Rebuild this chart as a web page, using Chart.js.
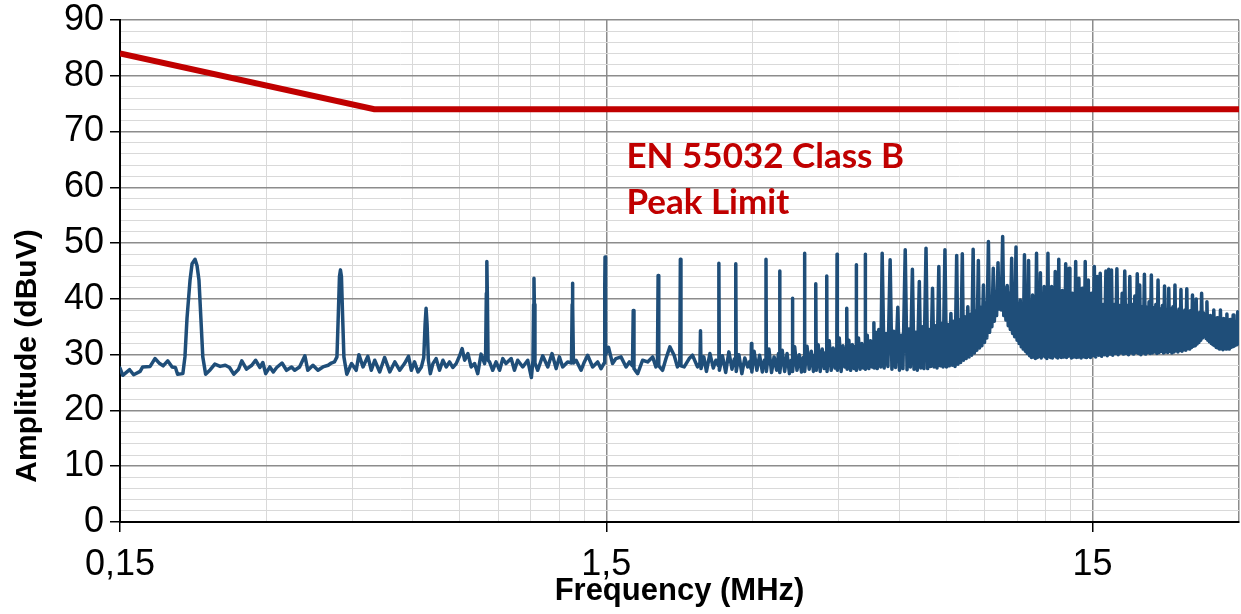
<!DOCTYPE html>
<html>
<head>
<meta charset="utf-8">
<script src="https://cdn.jsdelivr.net/npm/chart.js@4.4.1/dist/chart.umd.min.js"></script>
<style>
  html, body { margin: 0; padding: 0; background: #fff; overflow: hidden; }
  #wrap { width: 1241px; height: 614px; position: relative; }
  #wrap canvas { display: block; }
</style>
</head>
<body>
<div id="wrap"><canvas id="emiChart"></canvas></div>
<script>
// EN 55032 class B peak limit
const limitMHz = [0.15, 0.5, 30];
const limitDb = [84, 74, 74];

// log axis grid positions (multiples of 0.15 MHz), labels only on the decades
const freqTicks = [0.15, 0.3, 0.45, 0.6, 0.75, 0.9, 1.05, 1.2, 1.35,
  1.5, 3, 4.5, 6, 7.5, 9, 10.5, 12, 13.5, 15, 30];
const majorMHz = [0.15, 1.5, 15];
const majorText = ["0,15", "1,5", "15"];

const noteLines = ["EN 55032 Class B", "Peak Limit"];

// measured spectrum [MHz, dBuV]
const scanLow = [
  [0.150,27.6],[0.152,26.3],[0.157,27.3],[0.160,26.4],[0.165,27.0],[0.167,27.8],[0.173,27.9],[0.177,29.3],
  [0.181,28.4],[0.184,28.0],[0.188,28.9],[0.192,27.8],[0.195,27.7],[0.197,26.5],[0.202,26.6],[0.204,29.6],
  [0.206,36.5],[0.209,43.4],[0.211,46.3],[0.214,47.1],[0.216,46.0],[0.218,43.4],[0.220,36.5],[0.222,29.6],
  [0.225,26.5],[0.230,27.3],[0.235,28.3],[0.241,27.9],[0.247,28.1],[0.252,27.7],[0.257,26.5],[0.263,27.4],
  [0.267,28.9],[0.273,27.4],[0.280,28.1],[0.285,29.0],[0.291,27.7],[0.295,28.6],[0.299,26.6],[0.305,27.8],
  [0.310,26.9],[0.315,27.7],[0.323,28.5],[0.330,27.2],[0.338,27.8],[0.343,27.2],[0.351,27.8],[0.360,29.8],
  [0.365,27.2],[0.374,28.1],[0.383,27.2],[0.392,27.8],[0.402,28.1],[0.408,28.5],[0.414,28.7],[0.419,29.6],
  [0.422,38.0],[0.424,44.0],[0.426,45.2],[0.428,44.0],[0.430,38.0],[0.433,29.6],[0.439,26.5],[0.449,28.4],
  [0.459,27.2],[0.465,30.0],[0.474,27.8],[0.485,29.7],[0.493,27.2],[0.501,29.0],[0.513,26.9],[0.525,29.5],
  [0.538,26.9],[0.551,28.7],[0.564,27.2],[0.577,28.4],[0.588,29.7],[0.596,27.2],[0.605,28.7],[0.615,26.9],
  [0.625,27.8],[0.632,29.5],[0.636,35.5],[0.639,38.3],[0.642,35.5],[0.646,29.0],[0.652,26.6],[0.660,28.4],
  [0.670,29.3],[0.681,27.2],[0.692,29.0],[0.703,27.8],[0.714,28.7],[0.725,27.7],[0.737,28.4],[0.749,29.8],
  [0.758,31.1],[0.767,29.0],[0.779,30.2],[0.791,27.8],[0.804,28.4],[0.816,26.6],[0.829,30.1],[0.843,28.4],
  [0.847,30.0],[0.850,41.0],[0.852,46.7],[0.854,41.0],[0.857,29.0],[0.863,28.7],[0.876,27.2],[0.890,28.7],
  [0.905,27.2],[0.919,29.3],[0.933,28.4],[0.956,29.3],[0.971,27.2],[0.986,29.0],[1.010,27.8],[1.034,29.0],
  [1.052,25.9],[1.060,29.0],[1.063,39.0],[1.065,43.7],[1.067,39.0],[1.070,28.5],[1.084,27.2],[1.110,29.8],
  [1.137,27.8],[1.160,30.2],[1.183,27.5],[1.201,29.6],[1.220,27.8],[1.249,28.7],[1.272,28.5],[1.276,39.0],
  [1.278,42.8],[1.280,39.0],[1.284,28.5],[1.300,29.0],[1.331,27.2],[1.352,28.7],[1.373,29.9],[1.406,27.8],
  [1.440,28.7],[1.463,27.5],[1.485,28.5],[1.489,42.0],[1.491,47.5],[1.493,42.0],[1.497,30.0],[1.516,31.3],
  [1.545,28.4],[1.570,29.3],[1.608,29.6],[1.647,27.8],[1.673,28.7],[1.698,28.0],[1.704,37.9],[1.710,27.5],
  [1.740,26.6],[1.781,29.0],[1.824,28.7],[1.868,29.6],[1.897,27.8],[1.911,28.5],[1.917,44.2],[1.923,28.0],
  [1.958,27.2],[1.990,29.3],[2.027,31.4],[2.068,29.9],[2.101,27.8],[2.124,28.5],[2.130,47.1],[2.136,28.0],
  [2.169,27.8],[2.221,29.3],[2.256,29.9],[2.310,27.8]
];

const scanMid = [
  [2.337,28.5],[2.343,34.3],[2.349,27.5],[2.38,29.6],[2.41,27.0],[2.45,30.2],[2.49,27.6],[2.52,29.0],
  [2.550,28.0],[2.556,46.4],[2.562,27.2],[2.60,29.8],[2.64,26.8],[2.68,30.5],[2.72,27.4],[2.75,29.2],
  [2.763,28.0],[2.769,46.3],[2.775,27.0],[2.81,30.0],[2.85,26.6],[2.89,29.4],[2.93,27.8],[2.96,28.8],
  [2.976,27.5],[2.982,32.0],[2.988,26.9],[3.02,30.6],[3.06,27.2],[3.10,29.9],[3.14,26.9],[3.17,29.0],
  [3.189,28.5],[3.195,47.1],[3.201,27.0],[3.24,31.0],[3.28,26.8],[3.32,29.6],[3.36,27.2],[3.39,30.2],
  [3.402,28.0],[3.408,45.0],[3.414,26.8],[3.45,30.8],[3.49,27.0],[3.53,30.2],[3.57,26.6],[3.60,29.0],
  [3.615,28.3],[3.621,40.1],[3.627,27.0],[3.66,31.4],[3.70,27.2],[3.74,30.0],[3.78,26.9],[3.81,29.5],
  [3.828,28.5],[3.834,48.2],[3.840,27.0],[3.88,31.5],[3.92,27.4],[3.96,30.6],[4.00,27.0],[4.03,30.0],
  [4.041,28.0],[4.047,42.7],[4.053,27.2],[4.09,31.8],[4.13,27.0],[4.17,31.0],[4.21,27.5],[4.24,30.4],
  [4.254,28.5],[4.260,44.1],[4.266,27.0],[4.31,32.5],[4.35,27.2],[4.39,31.2],[4.43,27.6],[4.46,31.0],
  [4.467,28.0],[4.473,48.0],[4.479,27.2],[4.52,33.0],[4.56,27.0],[4.60,31.6],[4.64,27.8],[4.67,31.2],
  [4.680,28.5],[4.686,38.3],[4.692,27.4],[4.73,32.6],[4.77,27.2],[4.81,31.8],[4.85,27.5],[4.88,31.5],
  [4.893,28.0],[4.899,46.1],[4.905,27.2],[4.95,33.0],[4.99,27.4],[5.03,32.0],[5.07,27.6],
  [5.106,28.0],[5.112,48.0],[5.118,27.4],[5.16,33.5],[5.20,27.5],[5.24,32.5],[5.28,27.8],
  [5.319,28.5],[5.325,35.7],[5.331,27.6],[5.37,34.0],[5.41,27.5],[5.45,34.5],[5.50,27.8]
];

const scanHigh = [
  [5.538,48.2],[5.59,27.6],[5.64,33.8],[5.69,27.9],
  [5.751,47.0],[5.80,27.4],[5.85,34.2],[5.90,27.7],
  [5.964,38.5],[6.01,27.2],[6.06,33.5],[6.11,27.5],
  [6.177,48.8],[6.23,27.3],[6.28,34.6],[6.33,27.8],
  [6.390,45.3],[6.44,27.4],[6.49,34.0],[6.54,27.2],
  [6.603,43.1],[6.65,27.6],[6.70,35.0],[6.75,27.5],
  [6.816,49.1],[6.87,27.5],[6.92,34.5],[6.97,27.9],
  [7.029,41.9],[7.08,27.8],[7.13,35.2],[7.18,27.6],
  [7.242,45.8],[7.29,28.0],[7.34,35.6],[7.39,27.8],
  [7.455,48.8],[7.51,27.8],[7.56,35.4],[7.61,28.0],
  [7.668,37.4],[7.72,28.1],[7.77,36.0],[7.82,27.9],
  [7.881,47.8],[7.93,28.3],[7.98,36.2],[8.03,28.6],
  [8.094,48.1],[8.14,29.0],[8.19,36.8],[8.24,29.3],
  [8.307,38.6],[8.36,29.6],[8.41,37.2],[8.46,29.9],
  [8.520,48.9],[8.57,30.3],[8.62,37.8],[8.67,30.8],
  [8.733,46.9],[8.78,31.2],[8.83,38.5],[8.88,31.6],
  [8.946,42.5],[8.99,32.2],[9.04,39.2],[9.09,33.0],
  [9.159,50.3],[9.21,34.0],[9.26,40.0],[9.31,35.0],
  [9.372,45.5],[9.42,36.0],[9.47,41.2],[9.52,37.0],
  [9.585,46.5],[9.63,38.2],[9.68,42.5],[9.73,38.0],
  [9.798,51.2],[9.85,37.0],[9.90,42.0],[9.95,36.2],
  [10.011,42.4],[10.06,35.2],[10.11,41.0],[10.16,34.5],
  [10.224,47.3],[10.27,33.8],[10.32,40.0],[10.37,33.2],
  [10.437,49.3],[10.49,32.6],[10.54,39.2],[10.59,32.0],
  [10.650,39.8],[10.70,31.4],[10.75,38.6],[10.80,31.0],
  [10.863,47.9],[10.91,30.6],[10.96,38.5],[11.01,30.2],
  [11.076,46.9],[11.13,29.8],[11.18,39.0],[11.23,29.5],
  [11.289,40.7],[11.34,29.6],[11.39,39.4],[11.44,29.3],
  [11.502,48.2],[11.55,29.5],[11.60,39.6],[11.65,29.7],
  [11.715,44.7],[11.76,29.4],[11.81,39.0],[11.86,29.8],
  [11.928,42.2],[11.98,29.6],[12.03,39.8],[12.08,29.3],
  [12.141,48.2],[12.19,29.7],[12.24,39.5],[12.29,29.5],
  [12.354,42.2],[12.40,29.4],[12.45,39.9],[12.50,29.8],
  [12.567,44.9],[12.62,29.6],[12.67,39.3],[12.72,29.4],
  [12.780,47.1],[12.83,29.8],[12.88,40.0],[12.93,29.5],
  [12.993,41.5],[13.04,29.6],[13.09,39.6],[13.14,29.9],
  [13.206,46.3],[13.26,29.5],[13.31,39.8],[13.36,29.7],
  [13.419,45.5],[13.47,29.8],[13.52,39.4],[13.57,29.4],
  [13.632,41.0],[13.68,29.6],[13.73,39.7],[13.78,29.8],
  [13.845,46.7],[13.90,29.5],[13.95,39.2],[14.00,29.6],
  [14.058,43.7],[14.11,29.7],[14.16,39.5],[14.21,29.4],
  [14.271,41.9],[14.32,29.8],[14.37,39.3],[14.42,29.6],
  [14.484,46.7],[14.54,29.5],[14.59,39.0],[14.64,29.8],
  [14.697,43.4],[14.75,29.7],[14.80,39.1],[14.85,29.5]
];

const scanTop = [
  [14.910,41.0],[15.01,29.8],[15.123,45.8],[15.22,29.6],[15.336,44.0],[15.44,29.9],[15.549,44.6],[15.65,29.7],
  [15.762,39.0],[15.86,30.0],[15.975,45.0],[16.08,29.8],[16.188,45.3],[16.29,30.1],[16.401,45.2],[16.50,29.9],
  [16.614,39.0],[16.72,30.2],[16.827,45.4],[16.93,30.0],[17.040,38.8],[17.14,30.3],[17.253,41.0],[17.36,30.1],
  [17.466,45.0],[17.57,30.2],[17.679,38.8],[17.78,30.0],[17.892,44.0],[18.00,30.3],[18.105,39.0],[18.21,30.1],
  [18.318,40.5],[18.42,30.4],[18.531,44.5],[18.64,30.2],[18.744,42.5],[18.85,30.0],[18.957,38.6],[19.06,30.3],
  [19.170,44.4],[19.28,30.1],[19.383,38.5],[19.49,30.4],[19.596,39.5],[19.70,30.2],[19.809,44.3],[19.91,30.3],
  [20.022,38.4],[20.13,30.5],[20.235,39.0],[20.34,30.2],[20.448,43.4],[20.55,30.4],[20.661,38.2],[20.77,30.6],
  [20.874,38.8],[20.98,30.3],[21.087,42.3],[21.19,30.5],[21.300,38.0],[21.41,30.4],[21.513,41.9],[21.62,30.6],
  [21.726,38.2],[21.83,30.3],[21.939,38.6],[22.05,30.5],[22.152,42.5],[22.26,30.7],[22.365,37.8],[22.47,30.5],
  [22.578,38.2],[22.68,30.8],[22.791,41.7],[22.90,30.6],[23.004,37.8],[23.11,30.9],[23.217,38.0],[23.32,30.8],
  [23.430,41.8],[23.54,31.1],[23.643,37.6],[23.75,31.0],[23.856,37.9],[23.96,31.3],[24.069,40.7],[24.18,31.5],
  [24.282,37.5],[24.39,31.6],[24.495,40.0],[24.60,31.9],[24.708,37.4],[24.81,32.2],[24.921,37.6],[25.03,32.6],
  [25.134,41.0],[25.24,33.0],[25.347,37.5],[25.45,33.3],[25.560,37.2],[25.67,32.9],[25.773,39.5],[25.88,32.6],
  [25.986,36.8],[26.09,32.3],[26.199,37.0],[26.31,32.0],[26.412,36.6],[26.52,31.8],[26.625,38.0],[26.73,31.6],
  [26.838,36.4],[26.94,31.3],[27.051,36.6],[27.16,31.2],[27.264,36.3],[27.37,31.0],[27.477,38.0],[27.58,31.1],
  [27.690,36.2],[27.80,30.9],[27.903,36.5],[28.01,31.1],[28.116,36.1],[28.22,31.0],[28.329,37.3],[28.44,31.2],
  [28.542,36.0],[28.65,31.0],[28.755,36.3],[28.86,31.3],[28.968,35.9],[29.07,31.4],[29.181,37.1],[29.29,31.5],
  [29.394,35.8],[29.50,31.7],[29.607,36.0],[29.71,31.8],[29.820,37.7],[29.93,32.0],[30.0,34.5]
];

const scan = scanLow.concat(scanMid, scanHigh, scanTop);

const axisFont = "'Liberation Sans', Arial, sans-serif";
const isMajorX = v => majorMHz.indexOf(v) >= 0 || v === 30;

const overlay = {
  id: "overlay",
  afterDraw(chart) {
    const { ctx, chartArea, scales } = chart;
    ctx.save();
    // limit caption
    ctx.fillStyle = "#C00000";
    ctx.font = "bold 35px Lato, 'Liberation Sans', sans-serif";
    ctx.textBaseline = "middle";
    ctx.textAlign = "left";
    const nx = scales.x.getPixelForValue(1.65);
    ctx.fillText(noteLines[0], nx, scales.y.getPixelForValue(65.4));
    ctx.fillText(noteLines[1], nx, scales.y.getPixelForValue(57.2));
    // y axis title, sits a bit low like the original
    ctx.fillStyle = "#000";
    ctx.font = "bold 30px " + axisFont;
    ctx.translate(28, chartArea.bottom - 166);
    ctx.rotate(-Math.PI / 2);
    ctx.textAlign = "center";
    ctx.fillText("Amplitude (dBuV)", 0, 0);
    ctx.restore();
  }
};

new Chart(document.getElementById("emiChart"), {
  type: "line",
  data: {
    datasets: [
      {
        label: "Limit",
        data: limitMHz.map((f, i) => ({ x: f, y: limitDb[i] })),
        borderColor: "#C00000",
        borderWidth: 6,
        pointRadius: 0
      },
      {
        label: "Scan",
        data: scan.map(p => ({ x: p[0], y: p[1] })),
        borderColor: "#1F4E79",
        borderWidth: 3.5,
        borderJoinStyle: "round",
        borderCapStyle: "round",
        pointRadius: 0
      }
    ]
  },
  options: {
    responsive: true,
    maintainAspectRatio: false,
    animation: false,
    events: [],
    layout: { padding: { top: 20, right: 2, left: 0, bottom: 0 } },
    plugins: {
      legend: { display: false },
      tooltip: { enabled: false }
    },
    scales: {
      x: {
        type: "logarithmic",
        min: 0.15,
        max: 30,
        afterBuildTicks(scale) {
          scale.ticks = freqTicks.map(v => ({ value: v }));
        },
        afterFit(scale) {
          scale.height = 92;
          scale.paddingLeft = 0;
          scale.paddingRight = 0;
        },
        ticks: {
          autoSkip: false,
          maxRotation: 0,
          padding: 11,
          color: "#000",
          font: { family: axisFont, size: 36 },
          callback: v => {
            const i = majorMHz.indexOf(v);
            return i >= 0 ? majorText[i] : "";
          }
        },
        grid: {
          color: c => isMajorX(c.tick.value) ? "#8c8c8c" : "#d9d9d9",
          lineWidth: c => isMajorX(c.tick.value) ? 1.5 : 1,
          tickLength: 10,
          tickColor: c => majorMHz.indexOf(c.tick.value) >= 0 ? "#000" : "rgba(0,0,0,0)"
        },
        border: { color: "#000", width: 2 },
        title: {
          display: true,
          text: "Frequency (MHz)",
          color: "#000",
          font: { family: axisFont, size: 31, weight: "bold" },
          padding: { top: 0, bottom: 4 }
        }
      },
      y: {
        min: 0,
        max: 90,
        afterFit(scale) {
          scale.width = 120;
          scale.paddingTop = 0;
          scale.paddingBottom = 0;
        },
        ticks: {
          stepSize: 2,
          autoSkip: false,
          padding: 6,
          color: "#000",
          font: { family: axisFont, size: 36 },
          callback: v => (v % 10 === 0 ? String(v) : "")
        },
        grid: {
          color: c => (c.tick.value % 10 === 0 ? "#8c8c8c" : "#d9d9d9"),
          lineWidth: c => (c.tick.value % 10 === 0 ? 1.5 : 1),
          tickLength: 10,
          tickColor: c => (c.tick.value % 10 === 0 ? "#000" : "rgba(0,0,0,0)")
        },
        border: { color: "#000", width: 2 }
      }
    }
  },
  plugins: [overlay]
});
</script>
</body>
</html>
